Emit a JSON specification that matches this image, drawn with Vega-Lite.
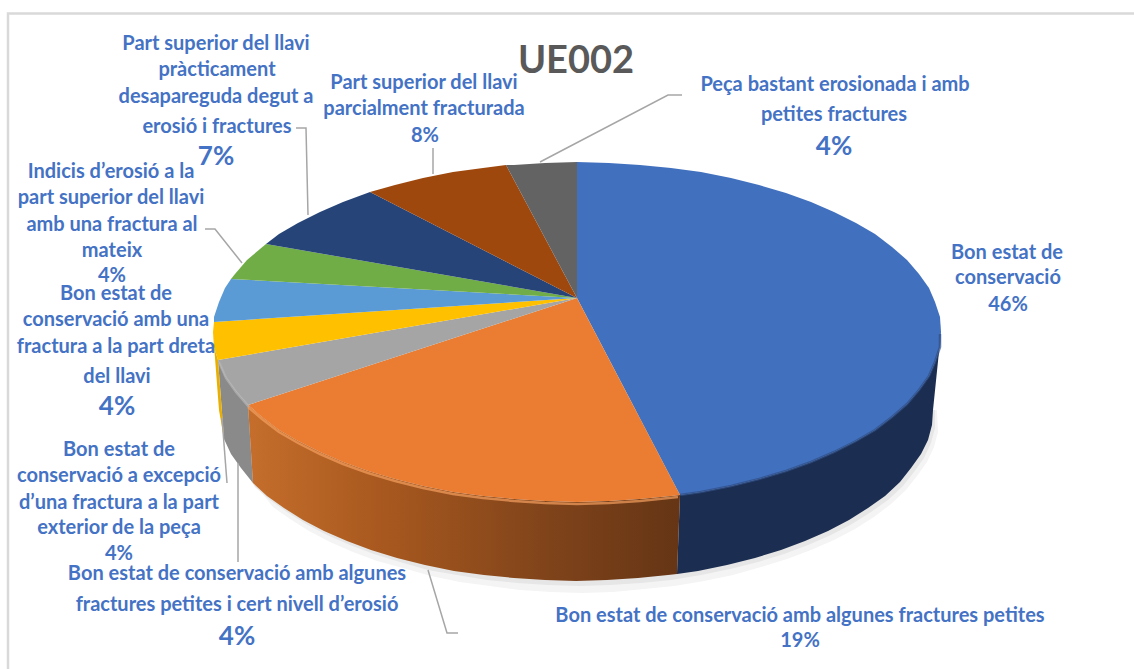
{
"$schema":"https://vega.github.io/schema/vega-lite/v6.json",
"width":1134,"height":669,"padding":0,"autosize":{"type":"none"},"background":"white",
"view":{"stroke":null},
"projection":{"type":"identity","scale":1,"translate":[577,332]},
"resolve":{"scale":{"color":"independent","stroke":"independent"}},
"datasets":{
"shadow":[
{"part":"far","geometry":{"type":"Polygon","coordinates":[[[360,78],[361,100],[357,115],[350,130],[340,144],[329,158],[314,172],[297,185],[278,197],[257,208],[234,218],[210,227],[184,235],[156,243],[127,249],[97,254],[67,257],[36,260],[5,261],[-26,260],[-57,258],[-87,254],[-117,250],[-146,244],[-174,236],[-200,229],[-224,220],[-247,210],[-268,199],[-287,187],[-304,175],[-320,155],[-340,120],[-358,78],[360,78]]]}},
{"part":"near","geometry":{"type":"Polygon","coordinates":[[[358,78],[358,96],[354,111],[347,126],[337,140],[326,154],[311,168],[294,180],[275,192],[254,203],[231,213],[207,222],[181,230],[153,237],[124,243],[94,248],[64,251],[33,253],[2,254],[-29,253],[-60,251],[-90,248],[-120,243],[-149,238],[-177,230],[-203,222],[-227,213],[-250,203],[-271,192],[-290,180],[-307,168],[-322,155],[-340,125],[-358,78],[358,78]]]}}
],
"walls":[
{"segment":"Bon estat de conservació","geometry":{"type":"Polygon","coordinates":[[[364,0],[363,15],[358,30],[352,44],[342,58],[330,72],[315,85],[298,98],[279,109],[257,120],[234,130],[209,139],[182,147],[154,154],[124,160],[103,163],[100,242],[121,239],[150,233],[178,226],[204,218],[228,209],[251,199],[272,188],[291,176],[308,164],[323,150],[334,136],[344,122],[351,108],[355,93],[356,78],[364,0]]]}},
{"segment":"Bon estat de conservació a excepció d’una fractura a la part exterior de la peça","geometry":{"type":"Polygon","coordinates":[[[-329,73],[-342,58],[-352,44],[-359,28],[-353,107],[-346,122],[-336,136],[-324,151],[-329,73]]]}},
{"segment":"Bon estat de conservació amb una fractura a la part dreta del llavi","geometry":{"type":"Polygon","coordinates":[[[-359,28],[-363,15],[-364,0],[-358,78],[-353,107],[-359,28]]]}}
],
"wallOrange":[
{"segment":"Bon estat de conservació amb algunes fractures petites","geometry":{"type":"Polygon","coordinates":[[[103,163],[94,164],[63,167],[32,169],[0,170],[-32,169],[-63,167],[-94,164],[-124,160],[-154,154],[-182,147],[-209,139],[-234,130],[-257,120],[-279,109],[-298,98],[-315,85],[-329,73],[-324,151],[-310,164],[-293,176],[-274,188],[-253,199],[-230,209],[-206,218],[-180,226],[-152,233],[-123,239],[-93,243],[-63,246],[-32,248],[-1,249],[30,248],[61,246],[91,243],[100,242],[103,163]]]}}
],
"sectors":[
{"segment":"Bon estat de conservació","percent":46,"geometry":{"type":"Polygon","coordinates":[[[0,-34],[0,-170],[32,-169],[63,-167],[94,-164],[124,-160],[154,-154],[182,-147],[209,-139],[234,-130],[257,-120],[279,-109],[298,-98],[315,-85],[330,-72],[342,-58],[352,-44],[358,-30],[363,-15],[364,0],[363,15],[358,30],[352,44],[342,58],[330,72],[315,85],[298,98],[279,109],[257,120],[234,130],[209,139],[182,147],[154,154],[124,160],[103,163],[0,-34]]]}},
{"segment":"Bon estat de conservació amb algunes fractures petites","percent":19,"geometry":{"type":"Polygon","coordinates":[[[0,-34],[103,163],[94,164],[63,167],[32,169],[0,170],[-32,169],[-63,167],[-94,164],[-124,160],[-154,154],[-182,147],[-209,139],[-234,130],[-257,120],[-279,109],[-298,98],[-315,85],[-329,73],[0,-34]]]}},
{"segment":"Bon estat de conservació a excepció d’una fractura a la part exterior de la peça","percent":4,"geometry":{"type":"Polygon","coordinates":[[[0,-34],[-329,73],[-342,58],[-352,44],[-359,28],[0,-34]]]}},
{"segment":"Bon estat de conservació amb una fractura a la part dreta del llavi","percent":4,"geometry":{"type":"Polygon","coordinates":[[[0,-34],[-359,28],[-363,15],[-364,0],[-363,-10],[0,-34]]]}},
{"segment":"Bon estat de conservació amb algunes fractures petites i cert nivell d’erosió","percent":4,"geometry":{"type":"Polygon","coordinates":[[[0,-34],[-363,-10],[-363,-15],[-358,-30],[-352,-44],[-346,-53],[0,-34]]]}},
{"segment":"Indicis d’erosió a la part superior del llavi amb una fractura al mateix","percent":4,"geometry":{"type":"Polygon","coordinates":[[[0,-34],[-346,-53],[-342,-58],[-330,-72],[-311,-88],[0,-34]]]}},
{"segment":"Part superior del llavi pràcticament desapareguda degut a erosió i fractures","percent":7,"geometry":{"type":"Polygon","coordinates":[[[0,-34],[-311,-88],[-298,-98],[-279,-109],[-257,-120],[-234,-130],[-207,-140],[0,-34]]]}},
{"segment":"Part superior del llavi parcialment fracturada","percent":8,"geometry":{"type":"Polygon","coordinates":[[[0,-34],[-207,-140],[-182,-147],[-154,-154],[-124,-160],[-94,-164],[-71,-167],[0,-34]]]}},
{"segment":"Peça bastant erosionada i amb petites fractures","percent":4,"geometry":{"type":"Polygon","coordinates":[[[0,-34],[-71,-167],[-63,-167],[-32,-169],[0,-170],[0,-34]]]}}
],
"bevel":[
{"edge":"orange","geometry":{"type":"LineString","coordinates":[[101,165],[63,169],[32,171],[0,172],[-32,171],[-63,169],[-94,166],[-124,162],[-154,156],[-182,149],[-209,141],[-234,132],[-257,122],[-279,111],[-298,100],[-315,87],[-329,75]]}},
{"edge":"blue","geometry":{"type":"LineString","coordinates":[[363,2],[363,15],[358,30],[352,44],[342,58],[330,72],[315,85],[298,98],[279,109],[257,120],[234,130],[209,139],[182,147],[154,154],[124,160],[103,163]]}},
{"edge":"gray","geometry":{"type":"LineString","coordinates":[[-328,75],[-341,60],[-351,46],[-358,30]]}}
],
"frame":[
{"geometry":{"type":"LineString","coordinates":[[-569,337],[-569,-318.5],[557,-318.5]]}}
],
"leaders":[
{"to":"Part superior del llavi pràcticament","geometry":{"type":"LineString","coordinates":[[-281,-204],[-271,-204],[-269,-117]]}},
{"to":"Indicis d’erosió","geometry":{"type":"LineString","coordinates":[[-372,-103],[-362,-103],[-335,-69]]}},
{"to":"Bon estat de conservació a excepció","geometry":{"type":"LineString","coordinates":[[-355,86],[-350,151]]}},
{"to":"Bon estat de conservació amb algunes fractures petites i cert","geometry":{"type":"LineString","coordinates":[[-339,131],[-339,230]]}},
{"to":"Bon estat de conservació amb algunes fractures petites","geometry":{"type":"LineString","coordinates":[[-149,238],[-130,301],[-119,301]]}},
{"to":"Part superior del llavi parcialment","geometry":{"type":"LineString","coordinates":[[-144,-184],[-144,-158]]}},
{"to":"Peça bastant","geometry":{"type":"LineString","coordinates":[[105,-237],[91,-237],[-37,-170]]}}
],
"labels":[
{"text":"UE002","role":"title","lon":-1,"lat":-270},
{"text":"Part superior del llavi","role":"name","lon":-361,"lat":-288},
{"text":"pràcticament","role":"name","lon":-360,"lat":-262},
{"text":"desapareguda degut a","role":"name","lon":-361,"lat":-235},
{"text":"erosió i fractures","role":"name","lon":-360,"lat":-205},
{"text":"7%","role":"large","lon":-361,"lat":-175},
{"text":"Indicis d’erosió a la","role":"name","lon":-466,"lat":-160},
{"text":"part superior del llavi","role":"name","lon":-466,"lat":-134},
{"text":"amb una fractura al","role":"name","lon":-465,"lat":-107},
{"text":"mateix","role":"name","lon":-465,"lat":-81},
{"text":"4%","role":"name","lon":-465,"lat":-56},
{"text":"Bon estat de","role":"name","lon":-461,"lat":-38},
{"text":"conservació amb una","role":"name","lon":-461,"lat":-12},
{"text":"fractura a la part dreta","role":"name","lon":-461,"lat":15},
{"text":"del llavi","role":"name","lon":-460,"lat":45},
{"text":"4%","role":"large","lon":-460,"lat":75},
{"text":"Bon estat de","role":"name","lon":-458,"lat":118},
{"text":"conservació a excepció","role":"name","lon":-458,"lat":144},
{"text":"d’una fractura a la part","role":"name","lon":-458,"lat":171},
{"text":"exterior de la peça","role":"name","lon":-458,"lat":196},
{"text":"4%","role":"name","lon":-458,"lat":222},
{"text":"Bon estat de conservació amb algunes","role":"name","lon":-340,"lat":242},
{"text":"fractures petites i cert nivell d’erosió","role":"name","lon":-340,"lat":273},
{"text":"4%","role":"large","lon":-340,"lat":305},
{"text":"Part superior del llavi","role":"name","lon":-153,"lat":-249},
{"text":"parcialment fracturada","role":"name","lon":-153,"lat":-223},
{"text":"8%","role":"name","lon":-152,"lat":-196},
{"text":"Peça bastant erosionada i amb","role":"name","lon":258,"lat":-247},
{"text":"petites fractures","role":"name","lon":257,"lat":-217},
{"text":"4%","role":"large","lon":257,"lat":-185},
{"text":"Bon estat de","role":"name","lon":430,"lat":-79},
{"text":"conservació","role":"name","lon":431,"lat":-54},
{"text":"46%","role":"name","lon":431,"lat":-27},
{"text":"Bon estat de conservació amb algunes fractures petites","role":"name","lon":223,"lat":284},
{"text":"19%","role":"name","lon":223,"lat":309}
]
},
"layer":[
{"data":{"name":"shadow"},"transform":[{"filter":"datum.part==='far'"}],"mark":{"type":"geoshape","fill":"#F4F4F4","stroke":null},"encoding":{"shape":{"field":"geometry","type":"geojson"}}},
{"data":{"name":"shadow"},"transform":[{"filter":"datum.part==='near'"}],"mark":{"type":"geoshape","fill":"#E6E6E6","stroke":null},"encoding":{"shape":{"field":"geometry","type":"geojson"}}},
{"data":{"name":"walls"},"mark":{"type":"geoshape","strokeWidth":0.5},
 "encoding":{"shape":{"field":"geometry","type":"geojson"},
 "color":{"field":"segment","type":"nominal","legend":null,"scale":{"domain":["Bon estat de conservació","Bon estat de conservació a excepció d’una fractura a la part exterior de la peça","Bon estat de conservació amb una fractura a la part dreta del llavi"],"range":["#1B2D50","#8A8A8A","#E8AE00"]}}}},
{"data":{"name":"wallOrange"},"mark":{"type":"geoshape","stroke":null,"fill":{"gradient":"linear","x1":0,"y1":0,"x2":1,"y2":0,"stops":[{"offset":0,"color":"#C56E2C"},{"offset":0.3,"color":"#A9591F"},{"offset":0.7,"color":"#7F431A"},{"offset":1,"color":"#653515"}]}},"encoding":{"shape":{"field":"geometry","type":"geojson"}}},
{"data":{"name":"sectors"},"mark":{"type":"geoshape","strokeWidth":0.5},
 "encoding":{"shape":{"field":"geometry","type":"geojson"},
 "color":{"field":"segment","type":"nominal","legend":null,"scale":{"domain":["Bon estat de conservació","Bon estat de conservació amb algunes fractures petites","Bon estat de conservació a excepció d’una fractura a la part exterior de la peça","Bon estat de conservació amb una fractura a la part dreta del llavi","Bon estat de conservació amb algunes fractures petites i cert nivell d’erosió","Indicis d’erosió a la part superior del llavi amb una fractura al mateix","Part superior del llavi pràcticament desapareguda degut a erosió i fractures","Part superior del llavi parcialment fracturada","Peça bastant erosionada i amb petites fractures"],"range":["#4170BE","#EB7D32","#A5A5A5","#FFC000","#5B9BD5","#70AD47","#264478","#9E480E","#636363"]}}}},
{"data":{"name":"bevel"},"mark":{"type":"geoshape","filled":false,"strokeWidth":2.5,"strokeOpacity":0.7},
 "encoding":{"shape":{"field":"geometry","type":"geojson"},
 "stroke":{"field":"edge","type":"nominal","legend":null,"scale":{"domain":["orange","blue","gray"],"range":["#F5A05F","#2F4F86","#B5B5B5"]}}}},
{"data":{"name":"frame"},"mark":{"type":"geoshape","filled":false,"stroke":"#D9D9D9","strokeWidth":2.5},"encoding":{"shape":{"field":"geometry","type":"geojson"}}},
{"data":{"name":"leaders"},"mark":{"type":"geoshape","filled":false,"stroke":"#A6A6A6","strokeWidth":1.5},"encoding":{"shape":{"field":"geometry","type":"geojson"}}},
{"data":{"name":"labels"},"transform":[{"filter":"datum.role==='name'"}],"mark":{"type":"text","font":"Lato","fontWeight":"bold","align":"center","baseline":"middle","fontSize":20,"color":"#4472C4"},
 "encoding":{"longitude":{"field":"lon","type":"quantitative"},"latitude":{"field":"lat","type":"quantitative"},"text":{"field":"text","type":"nominal"}}},
{"data":{"name":"labels"},"transform":[{"filter":"datum.role==='large'"}],"mark":{"type":"text","font":"Lato","fontWeight":"bold","align":"center","baseline":"middle","fontSize":26,"color":"#4472C4"},
 "encoding":{"longitude":{"field":"lon","type":"quantitative"},"latitude":{"field":"lat","type":"quantitative"},"text":{"field":"text","type":"nominal"}}},
{"data":{"name":"labels"},"transform":[{"filter":"datum.role==='title'"}],"mark":{"type":"text","font":"Lato","fontWeight":"bold","align":"center","baseline":"middle","fontSize":38,"color":"#595959"},
 "encoding":{"longitude":{"field":"lon","type":"quantitative"},"latitude":{"field":"lat","type":"quantitative"},"text":{"field":"text","type":"nominal"}}}
]
}
